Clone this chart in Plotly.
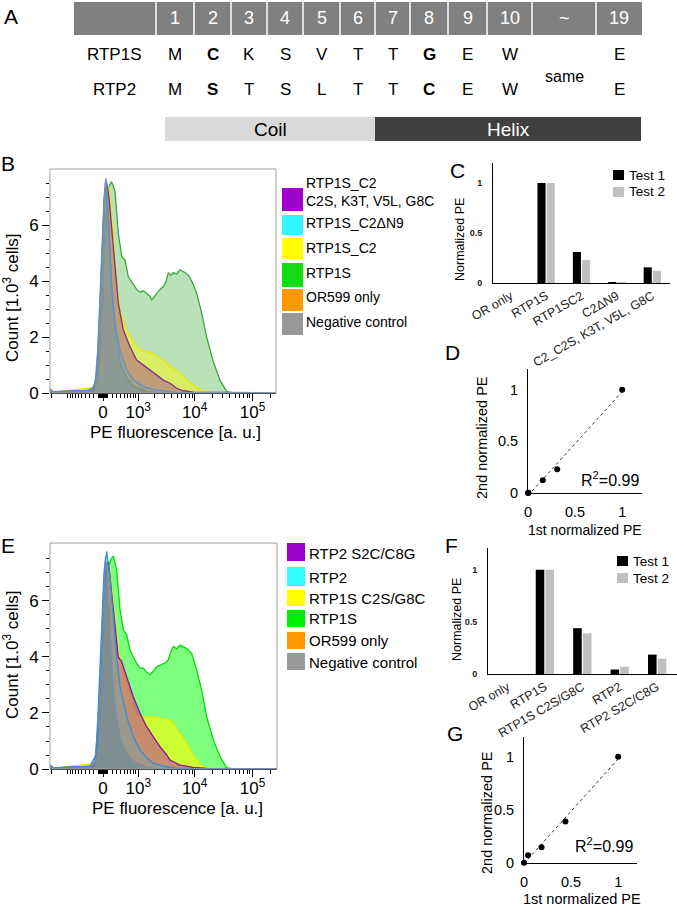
import numpy as np
import plotly.graph_objects as go

W, H = 677, 907
FONT = "Liberation Sans, Arial, sans-serif"

# ======================= DATA =======================
# Panel A: N-terminal alignment
residue_numbers = ["1", "2", "3", "4", "5", "6", "7", "8", "9", "10", "~", "19"]
rtp1s_residues = ["M", "C", "K", "S", "V", "T", "T", "G", "E", "W", "", "E"]
rtp2_residues = ["M", "S", "T", "S", "L", "T", "T", "C", "E", "W", "", "E"]
highlighted = [False, True, False, False, False, False, False, True, False, False, False, False]
seq_names = ["RTP1S", "RTP2"]
gap_label = "same"
structure_names = ["Coil", "Helix"]

# Flow-cytometry axes (PE fluorescence, a.u.; counts in 10^3 cells)
pe_tick_values = [0, 1e3, 1e4, 1e5]
pe_tick_labels = ["0", "10<sup>3</sup>", "10<sup>4</sup>", "10<sup>5</sup>"]
count_ticks = [0, 2, 4, 6]

# Histograms, panel B: (biexponential PE position, count [10^3 cells])
b_rtp1s = [(-0.914, 0.02), (-0.167, 0.05), (-0.08, 0.5), (-0.023, 2.5), (0.017, 5.0), (0.063, 6.8),
           (0.109, 7.4), (0.149, 7.55), (0.207, 7.2), (0.264, 5.7), (0.322, 4.87), (0.379, 4.75),
           (0.437, 4.15), (0.523, 3.86), (0.580, 3.7), (0.638, 3.6), (0.695, 3.65), (0.753, 3.56),
           (0.81, 3.45), (0.839, 3.32), (0.882, 3.45), (0.925, 3.56), (0.983, 3.7), (1.040, 3.8),
           (1.083, 3.95), (1.126, 4.3), (1.170, 4.2), (1.213, 4.3), (1.270, 4.25), (1.328, 4.4),
           (1.371, 4.35), (1.414, 4.3), (1.471, 4.2), (1.529, 4.0), (1.572, 3.8), (1.615, 3.56),
           (1.701, 2.85), (1.787, 2.0), (1.902, 1.12), (2.017, 0.46), (2.132, 0.05), (2.247, 0.0),
           (2.98, 0.0)]
b_c2 = [(-0.856, 0.03), (-0.138, 0.2), (-0.08, 1.2), (-0.023, 4.0), (0.023, 6.5), (0.063, 7.3),
        (0.103, 7.37), (0.178, 5.7), (0.236, 3.9), (0.293, 2.96), (0.408, 2.25), (0.523, 1.83),
        (0.638, 1.54), (0.753, 1.48), (0.868, 1.42), (0.983, 1.24), (1.098, 1.06), (1.213, 0.88),
        (1.328, 0.7), (1.443, 0.46), (1.557, 0.29), (1.672, 0.13), (1.787, 0.04), (1.960, 0.0),
        (2.98, 0.0)]
b_c2_mut = [(-0.914, 0.15), (-0.868, 0.05), (-0.167, 0.1), (-0.098, 0.8), (-0.052, 3.0),
            (-0.006, 5.8), (0.029, 7.2), (0.063, 7.5), (0.103, 7.0), (0.149, 5.9), (0.207, 4.5),
            (0.264, 3.2), (0.351, 2.25), (0.466, 1.65), (0.580, 1.18), (0.695, 1.0), (0.810, 0.82),
            (0.925, 0.64), (1.040, 0.46), (1.155, 0.35), (1.270, 0.17), (1.385, 0.08),
            (1.557, 0.03), (2.98, 0.01)]
b_dn9 = [(-0.914, 0.12), (-0.856, 0.04), (-0.282, 0.08), (-0.167, 0.2), (-0.109, 0.6),
         (-0.063, 2.7), (-0.023, 5.1), (0.017, 6.9), (0.052, 7.67), (0.092, 6.3), (0.149, 3.9),
         (0.207, 2.5), (0.293, 1.54), (0.408, 0.82), (0.523, 0.46), (0.695, 0.23), (0.868, 0.12),
         (1.098, 0.05), (1.328, 0.0), (2.98, 0.0)]
b_or599 = [(-0.914, 0.08), (-0.856, 0.03), (-0.224, 0.06), (-0.138, 0.2), (-0.08, 1.5),
           (-0.023, 4.5), (0.023, 7.0), (0.052, 7.4), (0.092, 6.3), (0.149, 3.6), (0.207, 2.2),
           (0.293, 1.1), (0.408, 0.55), (0.523, 0.25), (0.753, 0.06), (0.983, 0.0), (2.98, 0.0)]
b_neg = [(-0.914, 0.10), (-0.856, 0.03), (-0.224, 0.08), (-0.138, 0.3), (-0.08, 1.8),
         (-0.034, 4.0), (0.006, 6.5), (0.040, 7.55), (0.075, 7.0), (0.121, 4.8), (0.178, 3.0),
         (0.236, 1.8), (0.322, 0.95), (0.408, 0.5), (0.523, 0.22), (0.695, 0.07), (0.925, 0.0),
         (2.98, 0.0)]

# Histograms, panel E
e_rtp1s = [(-0.914, 0.02), (-0.138, 0.1), (-0.052, 2.0), (0.017, 5.5), (0.092, 7.2), (0.138, 7.5),
           (0.178, 7.6), (0.236, 7.1), (0.293, 5.7), (0.351, 4.96), (0.408, 4.8), (0.466, 4.25),
           (0.523, 4.0), (0.580, 3.77), (0.638, 3.6), (0.695, 3.6), (0.753, 3.45), (0.810, 3.36),
           (0.868, 3.5), (0.925, 3.65), (0.983, 3.7), (1.040, 3.77), (1.083, 3.8), (1.126, 3.9),
           (1.170, 4.2), (1.213, 4.37), (1.270, 4.3), (1.328, 4.43), (1.386, 4.35), (1.443, 4.3),
           (1.529, 4.13), (1.615, 3.54), (1.701, 2.82), (1.787, 1.87), (1.902, 1.04),
           (2.017, 0.44), (2.132, 0.05), (2.247, 0.0), (3.0, 0.0)]
e_c2s_g8c = [(-0.856, 0.03), (-0.121, 0.2), (-0.063, 1.5), (-0.006, 4.5), (0.052, 6.8),
             (0.109, 7.3), (0.178, 6.0), (0.264, 4.3), (0.351, 3.5), (0.466, 2.7), (0.580, 1.93),
             (0.695, 1.87), (0.810, 1.85), (0.925, 1.85), (1.040, 1.78), (1.126, 1.78),
             (1.213, 1.63), (1.328, 1.27), (1.443, 0.92), (1.557, 0.5), (1.672, 0.18),
             (1.787, 0.03), (1.960, 0.0), (3.0, 0.0)]
e_rtp2_mut = [(-0.914, 0.14), (-0.856, 0.04), (-0.167, 0.1), (-0.098, 0.8), (-0.052, 3.0),
              (0.006, 6.0), (0.052, 7.2), (0.092, 7.4), (0.178, 5.7), (0.264, 4.0), (0.322, 3.83),
              (0.408, 3.3), (0.523, 2.58), (0.638, 1.99), (0.753, 1.51), (0.868, 1.15),
              (0.983, 0.8), (1.098, 0.5), (1.155, 0.32), (1.328, 0.14), (1.557, 0.06),
              (1.787, 0.02), (3.0, 0.01)]
e_rtp2 = [(-0.914, 0.12), (-0.856, 0.04), (-0.224, 0.1), (-0.121, 0.5), (-0.075, 2.5),
          (-0.029, 5.0), (0.017, 7.0), (0.063, 7.76), (0.121, 6.87), (0.178, 5.44), (0.236, 4.0),
          (0.293, 2.94), (0.408, 1.87), (0.523, 1.15), (0.638, 0.68), (0.753, 0.4), (0.868, 0.2),
          (1.098, 0.08), (1.328, 0.0), (3.0, 0.0)]
e_or599 = [(-0.914, 0.08), (-0.856, 0.03), (-0.224, 0.06), (-0.138, 0.2), (-0.08, 1.5),
           (-0.023, 4.5), (0.023, 7.0), (0.052, 7.4), (0.092, 6.3), (0.149, 3.6), (0.207, 2.2),
           (0.293, 1.1), (0.408, 0.55), (0.523, 0.25), (0.753, 0.06), (0.983, 0.0), (3.0, 0.0)]
e_neg = [(-0.914, 0.10), (-0.856, 0.03), (-0.224, 0.08), (-0.138, 0.3), (-0.08, 1.8),
         (-0.034, 4.0), (0.006, 6.5), (0.040, 7.55), (0.075, 7.0), (0.121, 4.8), (0.178, 3.0),
         (0.236, 1.8), (0.322, 0.95), (0.408, 0.5), (0.523, 0.22), (0.695, 0.07), (0.925, 0.0),
         (3.0, 0.0)]

b_names = ["RTP1S_C2<br>C2S, K3T, V5L, G8C", "RTP1S_C2\u0394N9", "RTP1S_C2", "RTP1S",
           "OR599 only", "Negative control"]
e_names = ["RTP2 S2C/C8G", "RTP2", "RTP1S C2S/G8C", "RTP1S", "OR599 only", "Negative control"]

# Panel C / D
c_categories = ["OR only", "RTP1S", "RTP1SC2", "C2\u0394N9", "C2_C2S, K3T, V5L, G8C"]
c_test1 = [0.0, 1.0, 0.31, 0.005, 0.157]
c_test2 = [0.0, 1.0, 0.23, 0.003, 0.123]
# Panel F / G
f_categories = ["OR only", "RTP1S", "RTP1S C2S/G8C", "RTP2", "RTP2 S2C/C8G"]
f_test1 = [0.0, 1.0, 0.44, 0.043, 0.186]
f_test2 = [0.0, 1.0, 0.39, 0.07, 0.147]
test_names = ["Test 1", "Test 2"]
r2_label = "R<sup>2</sup>=0.99"
pe_ticks_norm = [0, 0.5, 1]

# ======================= HELPERS =======================
def X(px):
    return px / W


def Y(py):
    return 1 - py / H


def biex(v):
    return np.arcsinh(np.asarray(v, dtype=float) / (2 * 263.0)) / np.log(10)


fig = go.Figure()


def ann(text, px, py, size, color="black", xanchor="center", yanchor="middle", angle=0,
        family=FONT, align="center"):
    fig.add_annotation(text=text, x=X(px), y=Y(py), xref="paper", yref="paper", showarrow=False,
                       font=dict(size=size, color=color, family=family), xanchor=xanchor,
                       yanchor=yanchor, textangle=angle, borderpad=0, align=align)


def rect(x0, y0, x1, y1, fill, line="rgba(0,0,0,0)", lw=0):
    fig.add_shape(type="rect", xref="paper", yref="paper", x0=X(x0), x1=X(x1), y0=Y(y1), y1=Y(y0),
                  fillcolor=fill, line=dict(color=line, width=lw), layer="above")


# ======================= PANEL A =======================
cell_edges = [156, 194, 231, 267, 303, 340, 375, 410, 448, 487, 532, 596, 642]
rect(74, 2, 642, 35, "#808080")
for e in cell_edges[:-1]:
    fig.add_shape(type="line", xref="paper", yref="paper", x0=X(e), x1=X(e), y0=Y(35), y1=Y(2),
                  line=dict(color="white", width=1.5), layer="above")
centers = [(cell_edges[i] + cell_edges[i + 1]) / 2 for i in range(len(residue_numbers))]
for c, n in zip(centers, residue_numbers):
    ann(n, c, 18, 18, color="white")
row_y = [55, 90]
for name, ry, seq in zip(seq_names, row_y, [rtp1s_residues, rtp2_residues]):
    ann(name, 114, ry, 17)
    for c, r, hl in zip(centers, seq, highlighted):
        if r:
            ann("<b>%s</b>" % r if hl else r, c, ry, 17)
ann(gap_label, centers[10], 76, 16)
rect(165, 117, 375, 141, "#d9d9d9")
rect(375, 117, 641, 141, "#404040")
ann(structure_names[0], 270, 129, 19)
ann(structure_names[1], 508, 129, 19, color="white")

# ======================= PANELS B / E (histograms) =======================
def add_hist(data, line_color, fill_color, xa, ya, lw=1.3):
    u = [p[0] for p in data]
    c = [p[1] for p in data]
    fig.add_trace(go.Scatter(x=u, y=c, mode="lines", line=dict(color=line_color, width=lw),
                             fill="tozeroy", fillcolor=fill_color, xaxis=xa, yaxis=ya,
                             showlegend=False, hoverinfo="skip"))


# B: back to front
add_hist(b_rtp1s, "#3aa83a", "rgba(50,165,40,0.33)", "x", "y")
add_hist(b_c2, "#e8e800", "rgba(255,255,0,0.45)", "x", "y")
add_hist(b_or599, "#e09020", "rgba(255,150,0,0.25)", "x", "y")
add_hist(b_c2_mut, "#8a2a8a", "rgba(150,30,150,0.38)", "x", "y")
add_hist(b_neg, "#909090", "rgba(140,140,150,0.55)", "x", "y")
add_hist(b_dn9, "#5b8fd0", "rgba(0,220,255,0.15)", "x", "y")

# E: back to front
add_hist(e_rtp1s, "#00dd00", "rgba(0,255,0,0.50)", "x4", "y4")
add_hist(e_c2s_g8c, "#e8e800", "rgba(255,255,0,0.60)", "x4", "y4")
add_hist(e_or599, "#e09020", "rgba(255,150,0,0.25)", "x4", "y4")
add_hist(e_rtp2_mut, "#9010a0", "rgba(190,25,170,0.50)", "x4", "y4")
add_hist(e_neg, "#909090", "rgba(128,128,128,0.60)", "x4", "y4")
add_hist(e_rtp2, "#2f8fe0", "rgba(0,200,255,0.20)", "x4", "y4")

minor_pe = []
for k in (1, 2):
    for m in range(1, 10):
        minor_pe.append(-m * 10 ** k)
minor_pe += [-1000, -2000]
for k in (1, 2, 3, 4):
    for m in range(1, 10):
        if m == 1 and k >= 3:
            continue
        minor_pe.append(m * 10 ** k)
minor_pe += [2e5]
minor_counts = [v / 2 for v in range(1, 16) if v % 4 != 0]

hist_x = dict(tickmode="array", tickvals=list(biex(pe_tick_values)), ticktext=pe_tick_labels,
              ticks="outside", ticklen=7, tickcolor="black", showline=True, linecolor="black",
              linewidth=1, showgrid=False, zeroline=False, automargin=False,
              tickfont=dict(size=17, family=FONT, color="black"), ticklabelstandoff=-3,
              minor=dict(tickmode="array", tickvals=list(biex(minor_pe)), ticklen=4,
                         ticks="outside", tickcolor="black", showgrid=False))
hist_y = dict(tickmode="array", tickvals=count_ticks, ticktext=[str(v) for v in count_ticks],
              ticks="outside", ticklen=7, tickcolor="black", showline=False, showgrid=False,
              zeroline=False, automargin=False, tickfont=dict(size=17, family=FONT, color="black"),
              minor=dict(tickmode="array", tickvals=minor_counts, ticklen=3, ticks="outside",
                         tickcolor="black", showgrid=False))

for ax in ("x", "x4"):
    yref = "y" if ax == "x" else "y4"
    fig.add_shape(type="rect", xref=ax + " domain", yref=yref + " domain", x0=0, x1=1, y0=0, y1=1,
                  line=dict(color="#a0a0a0", width=1), layer="above")

# legends B
b_colors = ["#a000cc", "#33f5ff", "#ffff00", "#11dd11", "#ff9900", "#999999"]
b_sq = [(188, 211), (215, 235), (238, 259), (263, 287), (289, 311), (313, 335)]
b_ty = [192, 223, 248, 273, 297, 322]
for col, (y0, y1), ty, nm in zip(b_colors, b_sq, b_ty, b_names):
    rect(282, y0, 303, y1, col)
    ann(nm, 305, ty, 14, xanchor="left", align="left")

e_colors = ["#9900cc", "#33ffff", "#ffff00", "#00ee00", "#ff9900", "#999999"]
e_sq = [(543, 561), (567, 586), (590, 606), (610, 627), (632, 649), (653, 670)]
e_ty = [553, 577, 598, 618, 640, 662]
for col, (y0, y1), ty, nm in zip(e_colors, e_sq, e_ty, e_names):
    rect(287, y0, 305, y1, col)
    ann(nm, 308, ty, 15, xanchor="left", align="left")

ann("Count [1.0<sup>3</sup> cells]", 11, 298, 17, angle=-90)
ann("PE fluorescence [a. u.]", 176, 432, 17)
ann("Count [1.0<sup>3</sup> cells]", 11, 655, 17, angle=-90)
ann("PE fluorescence [a. u.]", 177, 808, 17)

# ======================= PANELS C / F (bars) =======================
for cats, t1, t2, xa, ya in ((c_categories, c_test1, c_test2, "x2", "y2"),
                            (f_categories, f_test1, f_test2, "x5", "y5")):
    fig.add_trace(go.Bar(x=cats, y=t1, name=test_names[0], marker=dict(color="black", line=dict(width=0)),
                         xaxis=xa, yaxis=ya, showlegend=False, offsetgroup="1"))
    fig.add_trace(go.Bar(x=cats, y=t2, name=test_names[1], marker=dict(color="#c0c0c0", line=dict(width=0)),
                         xaxis=xa, yaxis=ya, showlegend=False, offsetgroup="2"))

bar_x = dict(type="category", showline=True, linecolor="black", linewidth=1, ticks="",
             tickangle=-30, tickfont=dict(size=12.5, family=FONT, color="#222"), showgrid=False,
             zeroline=False, automargin=False)
bar_y = dict(tickmode="array", tickvals=pe_ticks_norm, ticktext=["<b>0</b>", "<b>0.5</b>", "<b>1</b>"],
             showline=True, linecolor="black", linewidth=1, ticks="", showgrid=False, zeroline=False,
             automargin=False, tickfont=dict(size=9, family=FONT, color="#222"), ticklabelstandoff=8)

# bar legends
for lx, tops in ((613, (170, 187)), (617, (556, 573))):
    for (top, col, nm) in zip(tops, ["black", "#c0c0c0"], test_names):
        rect(lx, top, lx + 11, top + 10, col)
        ann(nm, lx + 15, top + 5, 13.5, xanchor="left", align="left")

ann("Normalized PE", 460, 240, 12.5, angle=-90)
ann("Normalized PE", 457, 620, 12.5, angle=-90)

# ======================= PANELS D / G (scatter) =======================
for t1, t2, xa, ya in ((c_test1, c_test2, "x3", "y3"), (f_test1, f_test2, "x6", "y6")):
    xs = np.array(t1)
    ys = np.array(t2)
    slope, icpt = np.polyfit(xs, ys, 1)
    lx = np.array([xs.min(), xs.max()])
    fig.add_trace(go.Scatter(x=lx, y=slope * lx + icpt, mode="lines",
                             line=dict(color="#333", width=1, dash="dot"), xaxis=xa, yaxis=ya,
                             showlegend=False, hoverinfo="skip"))
    fig.add_trace(go.Scatter(x=xs, y=ys, mode="markers", marker=dict(color="black", size=6),
                             xaxis=xa, yaxis=ya, showlegend=False, cliponaxis=False))

sc_axis = dict(tickmode="array", tickvals=pe_ticks_norm, ticktext=["0", "0.5", "1"],
               showline=True, linecolor="black", linewidth=1, ticks="", showgrid=False,
               zeroline=False, automargin=False, tickfont=dict(size=14.5, family=FONT, color="black"),
               ticklabelstandoff=6)

ann(r2_label, 610, 479, 16)
ann(r2_label, 604, 845, 16)
ann("2nd normalized PE", 482, 437, 14.5, angle=-90)
ann("1st normalized PE", 585, 530, 14)
ann("2nd normalized PE", 487, 813, 14.5, angle=-90)
ann("1st normalized PE", 582, 899, 14.5)

# panel letters
for letter, px, py in (("A", 11, 16), ("B", 8, 164), ("C", 457, 170), ("D", 453, 352),
                       ("E", 8, 545), ("F", 452, 545), ("G", 455, 733)):
    ann(letter, px, py, 21)

# ======================= LAYOUT =======================
fig.update_layout(
    width=W, height=H, autosize=False, margin=dict(l=0, r=0, t=0, b=0, autoexpand=False),
    paper_bgcolor="white", plot_bgcolor="rgba(0,0,0,0)", showlegend=False,
    barmode="group", bargap=0.48, bargroupgap=0.12,
    font=dict(family=FONT, color="black"),
    xaxis=dict(domain=[X(50), X(276)], range=[-0.914, 2.983], anchor="y", **hist_x),
    yaxis=dict(domain=[Y(393), Y(169)], range=[0, 8.0], anchor="x", **hist_y),
    xaxis4=dict(domain=[X(50), X(277)], range=[-0.914, 3.0], anchor="y4", **hist_x),
    yaxis4=dict(domain=[Y(769), Y(543)], range=[0, 8.07], anchor="x4", **hist_y),
    xaxis2=dict(domain=[X(493), X(670)], range=[-0.5, 4.5], anchor="y2", **bar_x),
    yaxis2=dict(domain=[Y(283), Y(163)], range=[0, 1.2], anchor="x2", **bar_y),
    xaxis5=dict(domain=[X(488), X(677)], range=[-0.52, 4.53], anchor="y5", **bar_x),
    yaxis5=dict(domain=[Y(674), Y(548)], range=[0, 1.21], anchor="x5", **bar_y),
    xaxis3=dict(domain=[X(528), X(642)], range=[0, 1.21], anchor="y3", **sc_axis),
    yaxis3=dict(domain=[Y(493), Y(369)], range=[0, 1.2], anchor="x3", **sc_axis),
    xaxis6=dict(domain=[X(524), X(637)], range=[0, 1.2], anchor="y6", **sc_axis),
    yaxis6=dict(domain=[Y(862.7), Y(736.7)], range=[0, 1.19], anchor="x6", **sc_axis),
)

fig.write_html("out.html", config={"displayModeBar": False},
               post_script="document.body.style.margin='0';document.body.style.overflow='hidden';")
